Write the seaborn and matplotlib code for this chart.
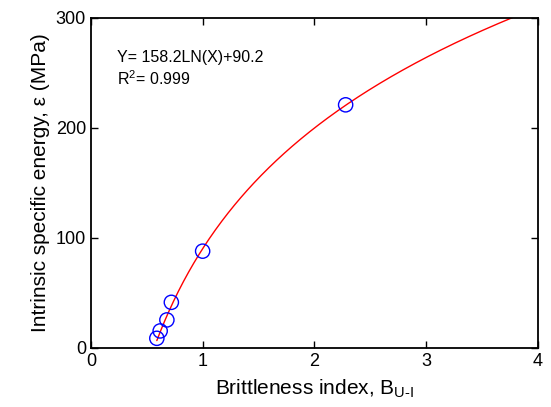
import numpy as np
import pandas as pd
import matplotlib
matplotlib.use("Agg")
import matplotlib.pyplot as plt
import seaborn as sns

# measured points
brittleness = [0.59, 0.62, 0.68, 0.72, 1.00, 2.28]
energy = [8.8, 15.5, 25.5, 41.5, 88, 221]

# fitted log curve Y = a*LN(X) + b
fit_a = 158.2
fit_b = 90.2
fit_x_start = 0.59
fit_x_end = 4.0

sns.set_style("ticks")
plt.rcParams['font.family'] = ['Liberation Sans', 'DejaVu Sans']
plt.rcParams['mathtext.fontset'] = 'custom'
plt.rcParams['mathtext.rm'] = 'Liberation Sans'
plt.rcParams['mathtext.it'] = 'Liberation Sans'
plt.rcParams['text.color'] = 'black'
plt.rcParams['axes.labelcolor'] = 'black'

df = pd.DataFrame({'x': brittleness, 'y': energy})
xf = np.linspace(fit_x_start, fit_x_end, 300)
fit = pd.DataFrame({'x': xf, 'y': fit_a * np.log(xf) + fit_b})

fig = plt.figure(figsize=(5.51, 4.07), dpi=100)
ax = fig.add_axes([0.165, 0.145, 0.811, 0.811])

sns.lineplot(data=fit, x='x', y='y', color='red', linewidth=1.0, ax=ax)
sns.scatterplot(data=df, x='x', y='y', ax=ax, marker='o', s=105,
                facecolor='none', edgecolor='blue', linewidth=1.0, zorder=3)

ax.set_xlim(0, 4)
ax.set_ylim(0, 300)
ax.set_xticks([0, 1, 2, 3, 4])
ax.set_yticks([0, 100, 200, 300])
ax.tick_params(direction='in', length=5, width=1, labelsize=13,
               top=True, right=True, colors='black')
for s in ax.spines.values():
    s.set_linewidth(1.3)
    s.set_color('black')

ax.set_xlabel('Brittleness index, B$_{\\mathregular{U\\text{-}I}}$', fontsize=15, labelpad=6)
ax.set_ylabel('Intrinsic specific energy, ε (MPa)', fontsize=15)

ax.text(0.058, 0.867, f'Y= {fit_a}LN(X)+{fit_b}', transform=ax.transAxes,
        fontsize=11.5, va='baseline')
ax.text(0.058, 0.797, 'R$^{\\mathregular{2}}$= 0.999', transform=ax.transAxes,
        fontsize=11.5, va='baseline')

fig.savefig('out.png', dpi=100)
